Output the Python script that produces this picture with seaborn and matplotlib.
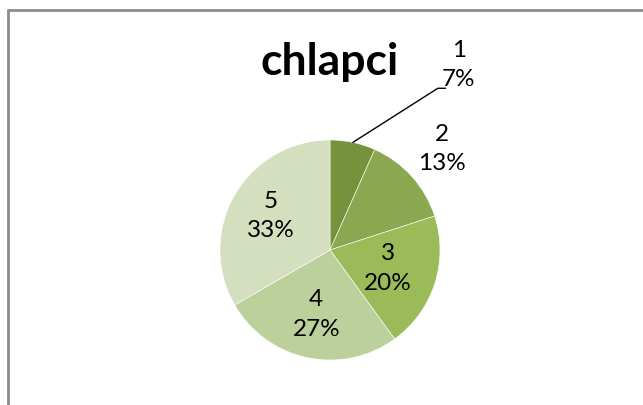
import numpy as np
import seaborn as sns
import matplotlib.pyplot as plt
from matplotlib.lines import Line2D

# data
categories = ["1", "2", "3", "4", "5"]
values = [1, 2, 3, 4, 5]
colors = ["#76923C", "#8AA84F", "#9BBB59", "#BBD09A", "#D3DFBF"]
# radial distance of each label (None = outside with leader line)
label_dist = [None, 1.37, 0.55, 0.6, 0.62]

sns.set_style("white")
plt.rcParams['font.family'] = ['Lato', 'DejaVu Sans']
plt.rcParams['text.color'] = 'black'

fig = plt.figure(figsize=(6.43, 4.05), dpi=100)
ax = fig.add_axes([330/643 - 0.5*245/643, 1 - (250 + 0.5*245)/405, 245/643, 245/405])

wedges, _ = ax.pie(values, colors=colors, startangle=90, counterclock=False,
                   wedgeprops=dict(edgecolor="white", linewidth=0.4))
ax.set_xlim(-1.1135, 1.1135)
ax.set_ylim(-1.1135, 1.1135)
ax.set_aspect("equal")

total = sum(values)
for w, cat, v, d in zip(wedges, categories, values, label_dist):
    ang = np.deg2rad((w.theta1 + w.theta2) / 2)
    txt = f"{cat}\n{round(100 * v / total)}%"
    if d is None:
        ex, ey = np.cos(ang), np.sin(ang)
        ax.plot([ex, 0.98, 1.05], [ey, 1.47, 1.47], color="black", lw=1.0, clip_on=False)
        ax.text(1.17, 1.68, txt, ha="center", va="center", fontsize=17.5,
                linespacing=1.5, color="black")
    else:
        ax.text(d * np.cos(ang), d * np.sin(ang), txt, ha="center", va="center",
                fontsize=17.5, linespacing=1.5, color="black")

fig.text(330/643, 1 - 62/405, "chlapci", ha="center", va="center",
         fontsize=32, fontweight="bold", color="black")

# chart frame (top and left edges visible)
gray = "#8c8c8c"
fig.add_artist(Line2D([8/643, 1], [1 - 10/405, 1 - 10/405], color=gray, lw=2))
fig.add_artist(Line2D([8/643, 8/643], [0, 1 - 10/405], color=gray, lw=2))

fig.savefig("out.png", dpi=100)
